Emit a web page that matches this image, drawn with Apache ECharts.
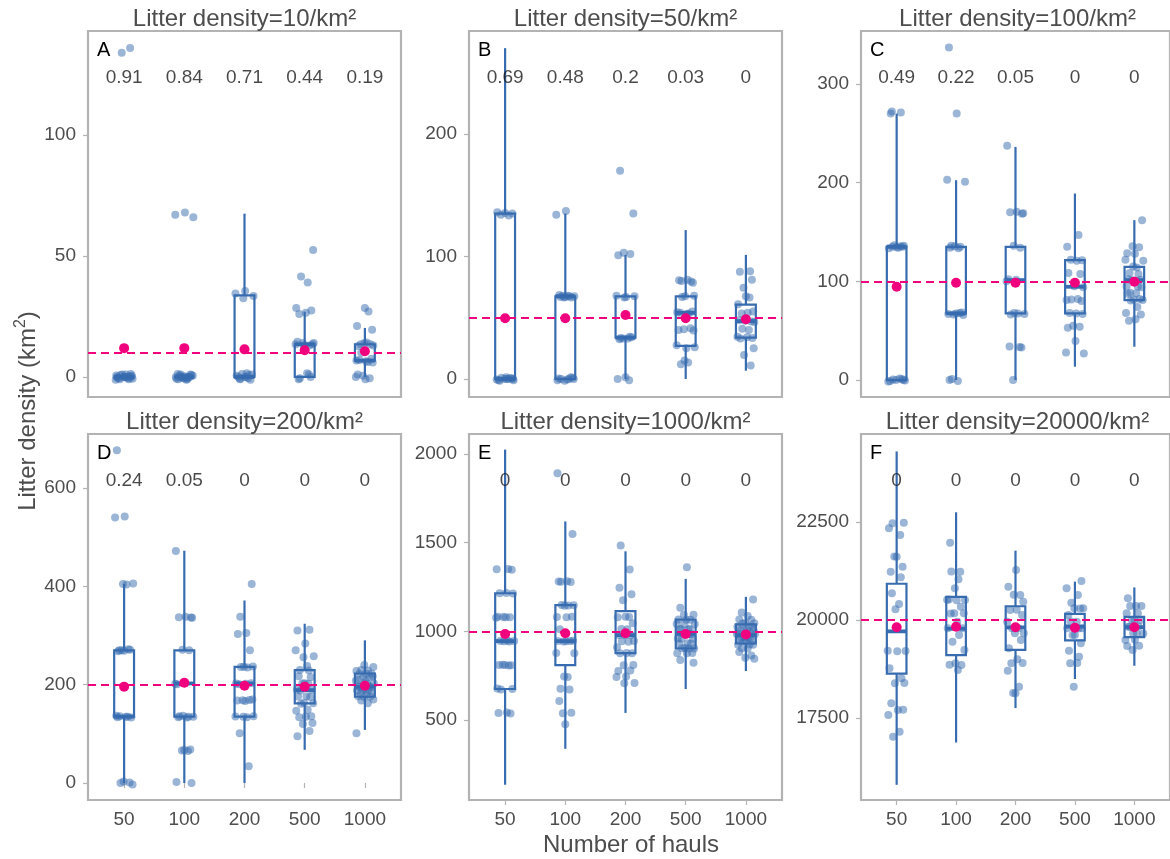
<!DOCTYPE html>
<html><head><meta charset="utf-8">
<script src="https://cdn.jsdelivr.net/npm/echarts@6/dist/echarts.min.js"></script>
<style>html,body{margin:0;padding:0;background:#fff}#c{width:1170px;height:859px}</style>
</head><body><div id="c"></div>
<script>
// ---------------- data ----------------
const HAULS = ['50', '100', '200', '500', '1000'];
const PANEL_TITLES = ['Litter density=10/km²', 'Litter density=50/km²', 'Litter density=100/km²',
  'Litter density=200/km²', 'Litter density=1000/km²', 'Litter density=20000/km²'];
const PANEL_LETTERS = ['A', 'B', 'C', 'D', 'E', 'F'];
const TRUTH = [10, 50, 100, 200, 1000, 20000];
const Y_TICKS = [[0, 50, 100], [0, 100, 200], [0, 100, 200, 300], [0, 200, 400, 600], [500, 1000, 1500, 2000], [17500, 20000, 22500]];
const Y_RANGE = [[-8.3, 143], [-14.7, 284], [-17.2, 353.7], [-34.6, 710], [49, 2113], [15408, 24745]];

const PROPS_A = ['0.91', '0.84', '0.71', '0.44', '0.19'];
const PROPS_B = ['0.69', '0.48', '0.2', '0.03', '0'];
const PROPS_C = ['0.49', '0.22', '0.05', '0', '0'];
const PROPS_D = ['0.24', '0.05', '0', '0', '0'];
const PROPS_E = ['0', '0', '0', '0', '0'];
const PROPS_F = ['0', '0', '0', '0', '0'];

// box: [lower whisker, Q1, median, Q3, upper whisker]
const BOX_A = [[0, 0, 0, 0, 0], [0, 0, 0, 0, 0], [0, 0, 0, 33.75, 67.5], [0, 0, 13.5, 13.5, 27], [0, 6.75, 6.75, 13.5, 20.25]];
const BOX_B = [[0, 0, 0, 135, 270], [0, 0, 67.5, 67.5, 135], [0, 33.75, 33.75, 67.5, 101.25], [0, 27, 54, 67.5, 121.5], [6.75, 33.75, 47.25, 60.75, 101.25]];
const BOX_C = [[0, 0, 135, 135, 270], [0, 67.5, 67.5, 135, 202.5], [0, 67.5, 101.25, 135, 236.25], [13.5, 67.5, 94.5, 121.5, 189], [33.75, 81, 101.25, 114.75, 162]];
const BOX_D = [[0, 135, 135, 270, 405], [0, 135, 202.5, 270, 472.5], [0, 135, 202.5, 236.25, 371.25], [67.5, 162, 189, 229.5, 324], [108, 175.5, 195.75, 222.75, 290.25]];
const BOX_E = [[135, 675, 945, 1215, 2025], [337.5, 810, 945, 1147.5, 1620], [540, 877.5, 978.75, 1113.75, 1451.25], [675, 904.5, 985.5, 1066.5, 1296], [776.25, 931.5, 978.75, 1039.5, 1194.75]];
const BOX_F = [[15795, 18630, 19710, 20925, 24300], [16875, 19102.5, 19777.5, 20587.5, 22747.5], [17752.5, 19237.5, 19811.25, 20351.25, 21768.75], [18495, 19480.5, 19831.5, 20155.5, 20979], [18832.5, 19561.5, 19818, 20081.25, 20830.5]];

const MEAN_A = [11.9, 11.9, 11.4, 11.0, 10.6];
const MEAN_B = [49.5, 49.5, 52.2, 49.5, 48.7];
const MEAN_C = [94.6, 98.6, 98.6, 98.6, 99.7];
const MEAN_D = [196, 204, 198, 196, 198];
const MEAN_E = [985, 989, 989, 985, 983];
const MEAN_F = [19813, 19830, 19813, 19800, 19813];

const PTS_A = [
  [0, -1, 1, 0.5, -0.5, 0, 1.2, -1.2, 0, 0.8, -0.8, 0, 0.3, -0.3, 1, -1, 0, 0.6, -0.6, 0, 134, 136],
  [0, -1, 1, 0.5, -0.5, 0, 1.2, -1.2, 0, 0.8, -0.8, 0, 0.3, -0.3, 1, -1, 0, 0.6, -0.6, 0, 66, 67, 68],
  [0, -1, 1, 0.5, -0.5, 0, 1.2, -1.2, 0, 0.8, -0.8, 1.5, 32.5, 33.5, 34.5, 35.5],
  [0, -1, 1, -0.5, 1.5, 13, 14, 13.5, 12.5, 14.5, 13, 14, 13.5, 26, 26.5, 27.5, 28.5, 39, 41.5, 52.5],
  [0, -1, 1, -0.5, 0.5, 6, 7, 6.5, 7.5, 6.8, 6.2, 10, 13, 14, 13.5, 12.8, 14.2, 13.5, 19.5, 21, 27, 28.5]
];
const PTS_B = [
  [0, -1.5, 1.5, 0.5, -0.5, 0, 1, -1, 0, 0.8, -0.8, 0, 134, 135, 136, 133.5, 135.5],
  [0, -1.5, 1.5, 0.5, -0.5, 0, 1, -1, 0, 67, 68, 66.5, 68.5, 67.5, 67, 68, 66.5, 67.5, 134, 137],
  [0, -1, 1.5, 33, 34, 32.5, 34.5, 33.5, 33, 66.5, 67.5, 68, 67, 101, 102, 103, 135, 170],
  [12, 13.5, 15, 26, 27.5, 25, 40, 41.5, 40.5, 39.5, 54, 53, 55, 54.5, 53.5, 67, 68, 67.5, 79.5, 80.5, 81, 80, 78.5],
  [11, 19.5, 25, 33, 34, 33.5, 34.5, 40, 41, 46.5, 47.5, 47, 48, 54, 53.5, 55, 61, 66.5, 67.5, 74.5, 81, 87.5, 88]
];
const PTS_C = [
  [0, -1.5, 1.5, 0.5, -0.5, 0, 1, -1, 134, 135, 136, 133.5, 135.5, 134.5, 136.5, 135, 270, 271, 272],
  [0, -1, 1, 66, 67, 68, 67.5, 66.5, 68.5, 134, 135, 136, 133.5, 135.5, 201, 203, 270, 337],
  [0, 33, 34, 33.5, 66.5, 67.5, 68, 67, 100, 101.5, 102, 134, 136, 169, 170, 170.5, 168.5, 237.5],
  [27, 28, 39.5, 53, 54, 55, 67, 68, 67.5, 80, 81, 82, 81.5, 94, 95, 107.5, 108.5, 121, 122, 121.5, 135, 147],
  [60, 61.5, 66.5, 68, 74, 80.5, 81, 81.5, 82, 87.5, 88, 88.5, 94, 95, 94.5, 100.5, 101, 101.5, 102, 107.5, 108.5, 114, 115, 121, 122, 128, 128.5, 134.5, 135.5, 162]
];
const PTS_D = [
  [0, -3, 3, 1, 134, 135, 136, 133, 137, 135, 269, 270, 271, 268, 272, 270, 404, 405, 406, 540, 542, 677],
  [0, 2, 65, 67, 66, 68, 134, 135, 136, 133, 137, 135, 202, 203, 201, 270, 271, 336, 337, 338, 336.5, 472],
  [34, 101, 134, 135, 136, 135.5, 167, 168, 169, 168.5, 170, 201, 202, 203, 202.5, 235, 236, 237, 236.5, 270, 303, 305, 338, 405],
  [95, 106, 120, 122, 134, 135, 136, 147, 149, 161, 162, 163, 175, 176, 176.5, 188, 189, 190, 202, 203, 202.5, 215, 217, 229, 230, 238, 256, 258, 270, 284, 310, 312],
  [101, 162, 168, 170, 175, 176, 176.5, 181, 182, 183, 188, 189, 190, 189.5, 195, 196, 197, 196.5, 202, 203, 202.5, 208, 209, 210, 215, 216, 217, 222, 223, 222.5, 228, 229, 230, 236, 240]
];
const PTS_E = [
  [537, 540, 543, 672, 675, 678, 808, 810, 812, 809, 811, 943, 945, 947, 944, 946, 1077, 1080, 1082, 1079, 1081, 1213, 1215, 1217, 1347, 1350, 1352],
  [476, 538, 541, 607, 672, 676, 743, 745, 876, 878, 944, 946, 945, 943, 947, 1012, 1080, 1082, 1081, 1146, 1148, 1147, 1145, 1279, 1281, 1282, 1280, 1549, 1891],
  [707, 709, 742, 745, 777, 779, 809, 811, 876, 878, 877, 911, 942, 944, 946, 978, 980, 979, 1012, 1013, 1046, 1080, 1081, 1083, 1176, 1210, 1246, 1349, 1484],
  [823, 838, 876, 878, 877, 904, 905, 903, 906, 931, 932, 933, 958, 959, 960, 985, 986, 987, 984, 1012, 1013, 1014, 1011, 1039, 1040, 1041, 1066, 1067, 1065, 1093, 1094, 1133, 1361],
  [845, 851, 864, 884, 903, 905, 924, 925, 926, 944, 945, 946, 947, 964, 965, 966, 967, 984, 985, 986, 987, 988, 1005, 1006, 1007, 1008, 1025, 1026, 1027, 1045, 1046, 1047, 1066, 1067, 1087, 1107, 1180]
];
const PTS_F = [
  [22466, 22480, 22338, 22168, 21615, 21620, 21360, 21233, 21088, 20680, 20408, 20272, 19209, 19215, 19200, 18767, 18512, 18384, 18390, 17874, 17704, 17710, 17577, 17151, 17024],
  [21973, 21233, 21240, 21037, 20808, 20510, 20515, 20505, 20520, 20340, 20170, 20175, 20165, 19957, 19787, 19790, 19617, 19447, 19235, 18895, 18852, 18858, 18724],
  [21275, 20850, 20638, 20645, 20468, 20255, 20260, 20128, 19957, 19787, 19792, 19660, 19665, 19490, 19277, 18997, 18895, 18900, 18707, 18299, 18129, 18135],
  [20995, 20808, 20638, 20442, 20298, 20300, 20295, 20128, 19957, 19960, 19787, 19790, 19785, 19617, 19620, 19405, 19218, 19065, 18895, 18900, 18299],
  [20553, 20357, 20360, 20355, 20170, 20175, 20000, 20003, 19997, 19830, 19833, 19827, 19660, 19663, 19657, 19490, 19493, 19337, 19340, 19235]
];

// ---------------- styling / layout ----------------
const BOXES = [BOX_A, BOX_B, BOX_C, BOX_D, BOX_E, BOX_F];
const POINTS = [PTS_A, PTS_B, PTS_C, PTS_D, PTS_E, PTS_F];
const MEANS = [MEAN_A, MEAN_B, MEAN_C, MEAN_D, MEAN_E, MEAN_F];
const PROPS = [PROPS_A, PROPS_B, PROPS_C, PROPS_D, PROPS_E, PROPS_F];

const JITTER = [-0.12, 0.08, -0.03, 0.13, -0.09, 0.02, 0.11, -0.14, 0.05, -0.06, 0.14, -0.01, 0.09, -0.11, 0.03,
  -0.07, 0.12, -0.13, 0.06, 0.0, -0.04, 0.1, -0.1, 0.07, -0.08, 0.04, -0.02, 0.15, -0.15, 0.01];
const BLUE = '#386cb0', PINK = '#f0027f', GREY_TXT = '#4d4d4d', BORDER = '#b3b3b3';
const FONT = '"Liberation Sans", Arial, sans-serif';
const LEFTS = [88, 469, 861], TOPS = [31, 434], PW = 313, PH = 366;
const BOX_WIDTH = 0.33;

function renderBox(params, api) {
  const x = api.value(0);
  const lo = api.coord([x, api.value(1)]), q1 = api.coord([x, api.value(2)]);
  const md = api.coord([x, api.value(3)]), q3 = api.coord([x, api.value(4)]);
  const hi = api.coord([x, api.value(5)]);
  const w = api.size([BOX_WIDTH, 0])[0];
  const cx = lo[0];
  const st = { stroke: BLUE, lineWidth: 2.2, fill: 'transparent' };
  return {
    type: 'group', children: [
      { type: 'line', shape: { x1: cx, y1: q3[1], x2: cx, y2: hi[1] }, style: st },
      { type: 'line', shape: { x1: cx, y1: q1[1], x2: cx, y2: lo[1] }, style: st },
      { type: 'rect', shape: { x: cx - w / 2, y: q3[1], width: w, height: q1[1] - q3[1] }, style: st },
      { type: 'line', shape: { x1: cx - w / 2, y1: md[1], x2: cx + w / 2, y2: md[1] }, style: { stroke: BLUE, lineWidth: 3.8 } }
    ]
  };
}

const grid = [], xAxis = [], yAxis = [], series = [], graphic = [];
for (let p = 0; p < 6; p++) {
  const col = p % 3, row = Math.floor(p / 3);
  const left = LEFTS[col], top = TOPS[row];
  grid.push({ left, top, width: PW, height: PH, show: true, borderColor: BORDER, borderWidth: 2.2, backgroundColor: 'transparent' });
  xAxis.push({
    gridIndex: p, type: 'value', min: 0.4, max: 5.6,
    axisLine: { show: false }, splitLine: { show: false },
    axisTick: { show: row === 1, customValues: [1, 2, 3, 4, 5], length: 5, lineStyle: { color: BORDER, width: 1.2 } },
    axisLabel: { show: row === 1, customValues: [1, 2, 3, 4, 5], formatter: v => HAULS[Math.round(v) - 1],
      fontSize: 19, color: GREY_TXT, margin: 10, fontFamily: FONT }
  });
  const yr = Y_RANGE[p];
  yAxis.push({
    gridIndex: p, type: 'value', min: yr[0], max: yr[1],
    axisLine: { show: false }, splitLine: { show: false },
    axisTick: { show: true, customValues: Y_TICKS[p], length: 5, lineStyle: { color: BORDER, width: 1.2 } },
    axisLabel: { customValues: Y_TICKS[p], formatter: v => String(v), fontSize: 19, color: GREY_TXT, margin: 12, fontFamily: FONT }
  });
  series.push({
    type: 'custom', xAxisIndex: p, yAxisIndex: p, renderItem: renderBox, clip: true, silent: true, z: 2,
    encode: { x: 0, y: [1, 2, 3, 4, 5] },
    data: BOXES[p].map((b, i) => [i + 1].concat(b))
  });
  const pts = [];
  POINTS[p].forEach((arr, c) => arr.forEach((v, i) => pts.push([c + 1 + JITTER[(i + 7 * c + 3 * p) % JITTER.length], v])));
  series.push({
    type: 'scatter', xAxisIndex: p, yAxisIndex: p, symbolSize: 8, silent: true, z: 3,
    itemStyle: { color: BLUE, opacity: 0.5 }, data: pts
  });
  series.push({
    type: 'scatter', xAxisIndex: p, yAxisIndex: p, symbolSize: 10, silent: true, z: 5,
    itemStyle: { color: PINK, opacity: 1 },
    data: MEANS[p].map((m, i) => [i + 1, m]),
    markLine: { silent: true, symbol: 'none', label: { show: false }, animation: false,
      lineStyle: { color: PINK, width: 2, type: [8, 5] }, data: [{ yAxis: TRUTH[p] }] }
  });
  const labelY = yr[1] - 0.127 * (yr[1] - yr[0]);
  series.push({
    type: 'scatter', xAxisIndex: p, yAxisIndex: p, symbolSize: 1, silent: true, z: 10,
    itemStyle: { color: 'transparent' },
    label: { show: true, position: 'inside', formatter: d => d.name, fontSize: 19, color: '#1a1a1a', fontFamily: FONT },
    data: PROPS[p].map((t, i) => ({ name: t, value: [i + 1, labelY] }))
  });
  graphic.push({ type: 'text', x: left + PW / 2, y: top - 12, silent: true,
    style: { text: PANEL_TITLES[p], fontSize: 24, fontFamily: FONT, fill: GREY_TXT, align: 'center', verticalAlign: 'middle' } });
  graphic.push({ type: 'text', x: left + 9, y: top + 19, silent: true,
    style: { text: PANEL_LETTERS[p], fontSize: 20, fontFamily: FONT, fill: '#000', align: 'left', verticalAlign: 'middle' } });
}
graphic.push({ type: 'text', x: 631, y: 845, silent: true,
  style: { text: 'Number of hauls', fontSize: 24, fontFamily: FONT, fill: GREY_TXT, align: 'center', verticalAlign: 'middle' } });
graphic.push({ type: 'text', x: 28, y: 411, rotation: Math.PI / 2, silent: true,
  style: { text: '{a|Litter density (km}{s|2}{a|)}', align: 'center', verticalAlign: 'middle',
    rich: { a: { fontSize: 24, fontFamily: FONT, fill: GREY_TXT, lineHeight: 30 },
            s: { fontSize: 16, fontFamily: FONT, fill: GREY_TXT, lineHeight: 18, verticalAlign: 'top' } } } });

const chart = echarts.init(document.getElementById('c'));
chart.setOption({ animation: false, backgroundColor: '#fff', grid, xAxis, yAxis, series, graphic });
</script></body></html>
